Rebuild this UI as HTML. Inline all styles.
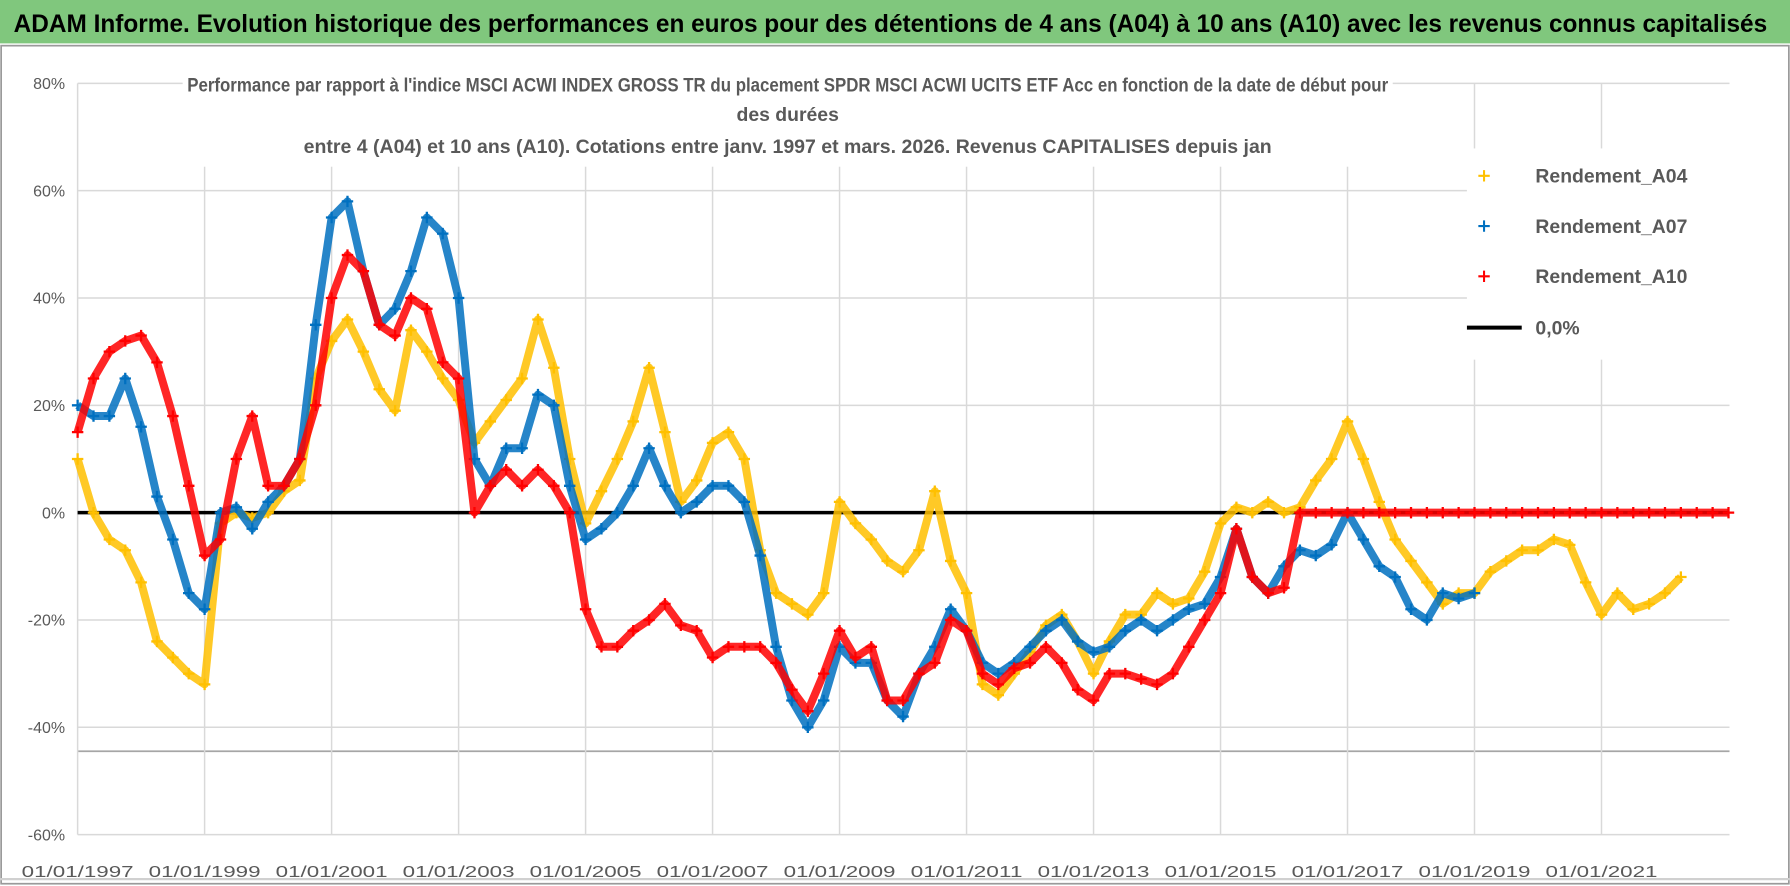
<!DOCTYPE html>
<html><head><meta charset="utf-8"><style>
html,body{margin:0;padding:0;background:#fff;}
svg{display:block;font-family:"Liberation Sans",sans-serif;}
</style></head><body>
<svg id="chart" width="1790" height="886" viewBox="0 0 1568 776" preserveAspectRatio="none" xmlns="http://www.w3.org/2000/svg">
<rect x="0" y="0" width="1568" height="776" fill="#fff"/>
<rect x="0" y="0" width="1568" height="38" fill="#80c77d"/>
<text x="12" y="28" font-size="22" font-weight="bold" fill="#000" textLength="1536" lengthAdjust="spacingAndGlyphs">ADAM Informe. Evolution historique des performances en euros pour des détentions de 4 ans (A04) à 10 ans (A10) avec les revenus connus capitalisés</text>
<rect x="1" y="40" width="1566" height="734" fill="none" stroke="#9a9a9a" stroke-width="1.5"/>
<line x1="0" y1="770" x2="1568" y2="770" stroke="#d0d0d0" stroke-width="2"/>
<g id="grid"></g>
<g id="axes"></g>
<g id="series"></g>
<rect x="160" y="60" width="1060" height="86" fill="#fff"/>
<g font-size="17" font-weight="bold" fill="#595959" text-anchor="middle">
<text x="690" y="80" textLength="1052" lengthAdjust="spacingAndGlyphs">Performance par rapport à l'indice MSCI ACWI INDEX GROSS TR  du placement SPDR MSCI ACWI UCITS ETF Acc en fonction de la date de début pour</text>
<text x="690" y="106">des durées</text>
<text x="690" y="134" textLength="848" lengthAdjust="spacingAndGlyphs">entre 4 (A04) et 10 ans (A10).  Cotations entre janv. 1997 et mars. 2026. Revenus CAPITALISES depuis jan</text>
</g>
<rect x="1285" y="130" width="232" height="185" fill="#fff"/>
<g id="legend" font-size="17" font-weight="bold" fill="#595959"></g>
</svg>
<script>
const startYear = 1997;
const step = 0.25;
const xTickLabels = ["01/01/1997","01/01/1999","01/01/2001","01/01/2003","01/01/2005","01/01/2007","01/01/2009","01/01/2011","01/01/2013","01/01/2015","01/01/2017","01/01/2019","01/01/2021"];
const xTickYears = [1997,1999,2001,2003,2005,2007,2009,2011,2013,2015,2017,2019,2021];
const yTicks = [80,60,40,20,0,-20,-40,-60];
const yTickLabels = ["80%","60%","40%","20%","0%","-20%","-40%","-60%"];
const seriesNames = ["Rendement_A04","Rendement_A07","Rendement_A10"];
const a04 = [10,0,-5,-7,-13,-24,-27,-30,-32,-2,0,-1,0,4,6,25,32,36,30,23,19,34,30,25,21,13,17,21,25,36,27,10,-2,4,10,17,27,15,2,6,13,15,10,-7,-15,-17,-19,-15,2,-2,-5,-9,-11,-7,4,-9,-15,-32,-34,-30,-26,-21,-19,-24,-30,-24,-19,-19,-15,-17,-16,-11,-2,1,0,2,0,1,6,10,17,10,2,-5,-9,-13,-17,-15,-15,-11,-9,-7,-7,-5,-6,-13,-19,-15,-18,-17,-15,-12];
const a07 = [20,18,18,25,16,3,-5,-15,-18,0,1,-3,2,5,10,35,55,58,45,35,38,45,55,52,40,10,5,12,12,22,20,5,-5,-3,0,5,12,5,0,2,5,5,2,-8,-25,-35,-40,-35,-25,-28,-28,-35,-38,-30,-25,-18,-22,-28,-30,-28,-25,-22,-20,-24,-26,-25,-22,-20,-22,-20,-18,-17,-12,-3,-12,-15,-10,-7,-8,-6,0,-5,-10,-12,-18,-20,-15,-16,-15];
const a10 = [15,25,30,32,33,28,18,5,-8,-5,10,18,5,5,10,20,40,48,45,35,33,40,38,28,25,0,5,8,5,8,5,0,-18,-25,-25,-22,-20,-17,-21,-22,-27,-25,-25,-25,-28,-33,-37,-30,-22,-27,-25,-35,-35,-30,-28,-20,-22,-30,-32,-29,-28,-25,-28,-33,-35,-30,-30,-31,-32,-30,-25,-20,-15,-3,-12,-15,-14,0,0,0,0,0,0,0,0,0,0,0,0,0,0,0,0,0,0,0,0,0,0,0,0,0,0,0,0];
const colors = ["#ffc000","#0070c0","#ff0000"];

const NS="http://www.w3.org/2000/svg";
const X0=68, XPY=55.62, Y0=449, YPP=4.7, XR=1515;
function xs(yr){return X0+(yr-1997)*XPY;}
function ys(v){return Y0-v*YPP;}
function mk(tag,attrs,parent){const e=document.createElementNS(NS,tag);for(const k in attrs)e.setAttribute(k,attrs[k]);parent.appendChild(e);return e;}
const grid=document.getElementById('grid'), axes=document.getElementById('axes'), ser=document.getElementById('series'), leg=document.getElementById('legend');

yTicks.forEach((t,i)=>{
  const l=mk('line',{x1:X0,x2:XR,y1:ys(t),y2:ys(t),stroke:'#d9d9d9','stroke-width':1.3},grid);
  
  
  const tx=mk('text',{x:57,y:ys(t)+5,'text-anchor':'end','font-size':14,fill:'#595959'},axes);
  tx.textContent=yTickLabels[i];
  
  
});
const extra=mk('line',{x1:X0,x2:XR,y1:658,y2:658,stroke:'#a6a6a6','stroke-width':1.5},grid);


xTickYears.forEach((yr,i)=>{
  const l=mk('line',{x1:xs(yr),x2:xs(yr),y1:ys(80),y2:ys(-60),stroke:'#d9d9d9','stroke-width':1.3},grid);
  
  
  const tx=mk('text',{x:xs(yr),y:768,'text-anchor':'middle','font-size':14,fill:'#595959',textLength:98,lengthAdjust:'spacingAndGlyphs'},axes);
  tx.textContent=xTickLabels[i];
  
  
});
const zl=mk('line',{x1:X0,x2:XR,y1:ys(0),y2:ys(0),stroke:'#000','stroke-width':3},ser);



[a04,a07,a10].forEach((arr,si)=>{
  const g=mk('g',{},ser);
  
  
  const pts=arr.map((v,i)=>xs(startYear+i*step).toFixed(1)+','+ys(v).toFixed(1)).join(' ');
  mk('polyline',{points:pts,fill:'none',stroke:colors[si],'stroke-width':7,'stroke-linejoin':'round','stroke-opacity':0.85},g);
  arr.forEach((v,i)=>{
    const x=xs(startYear+i*step), y=ys(v);
    const p=mk('path',{d:`M${x-5},${y}h10M${x},${y-5}v10`,stroke:colors[si],'stroke-width':2},g);
    
    
  });
});

seriesNames.forEach((n,i)=>{
  const y=160+i*44;
  const p=mk('path',{d:`M1295,${y-6}h10M1300,${y-11}v10`,stroke:colors[i],'stroke-width':1.8},leg);
  
  
  const t=mk('text',{x:1345,y:y},leg);
  t.textContent=n;
  
  
});
const ll=mk('line',{x1:1285,x2:1333,y1:287,y2:287,stroke:'#000','stroke-width':3.5},leg);


const lt=mk('text',{x:1345,y:293},leg);
lt.textContent='0,0%';


</script>
</body></html>
